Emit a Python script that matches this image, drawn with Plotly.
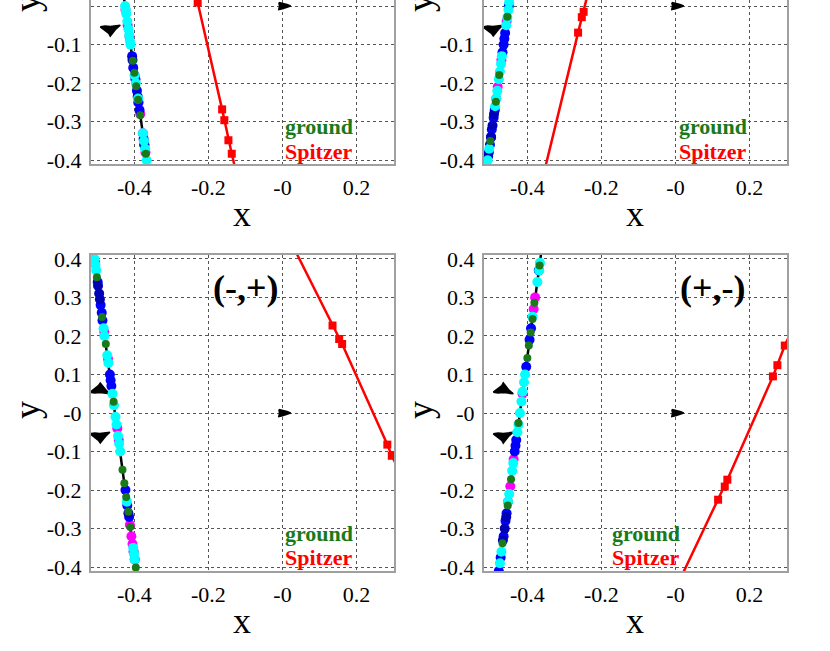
import plotly.graph_objects as go

W, H = 830, 651

# ── data ─────────────────────────────────────────────────────────────────────
X_TICKS = [-0.4, -0.2, 0.0, 0.2]
X_TICK_TEXT = ['-0.4', '-0.2', '-0', '0.2']
Y_TICKS = [-0.4, -0.3, -0.2, -0.1, 0.0, 0.1, 0.2, 0.3, 0.4]
Y_TICK_TEXT = ['-0.4', '-0.3', '-0.2', '-0.1', '-0', '0.1', '0.2', '0.3', '0.4']

# caustics (two planetary triangles + small central one)
CAUSTIC_A_X = [-0.520, -0.506, -0.497, -0.492, -0.487, -0.478, -0.466, -0.480, -0.493, -0.507, -0.520]
CAUSTIC_B_X = [-0.492, -0.478, -0.469, -0.465, -0.460, -0.451, -0.438, -0.452, -0.465, -0.479, -0.492]
CAUSTIC_UP_Y = [0.054, 0.063, 0.071, 0.078, 0.071, 0.061, 0.050, 0.051, 0.053, 0.052, 0.054]
CAUSTIC_DOWN_Y = [-0.054, -0.063, -0.071, -0.078, -0.071, -0.061, -0.050, -0.051, -0.053, -0.052, -0.054]
CENTRAL_X = [-0.010, 0.0, 0.012, 0.022, 0.012, 0.0, -0.010, -0.008, -0.010]
CENTRAL_Y = [0.009, 0.007, 0.004, 0.0, -0.004, -0.007, -0.009, 0.0, 0.009]

# top-left panel
TL_LINE_X = [-0.428, -0.364]
TL_LINE_Y = [0.02, -0.42]
TL_CYAN_X = [-0.425, -0.423, -0.422, -0.419, -0.416, -0.414, -0.412, -0.4105, -0.399, -0.396, -0.390, -0.377, -0.374, -0.371, -0.367]
TL_CYAN_Y = [0.0, -0.01, -0.02, -0.04, -0.06, -0.075, -0.09, -0.10, -0.18, -0.20, -0.24, -0.33, -0.35, -0.37, -0.40]
TL_MAG_X = [-0.424, -0.418, -0.413, -0.399, -0.389, -0.384, -0.377, -0.370]
TL_MAG_Y = [-0.01, -0.05, -0.08, -0.18, -0.25, -0.28, -0.33, -0.38]
TL_BLUE_X = [-0.406, -0.403, -0.397, -0.393, -0.389, -0.386, -0.375, -0.373]
TL_BLUE_Y = [-0.13, -0.16, -0.19, -0.22, -0.25, -0.27, -0.345, -0.36]
TL_DARK_X = [-0.405, -0.373, -0.391]
TL_DARK_Y = [-0.14, -0.36, -0.235]
TL_GREEN_X = [-0.404, -0.400, -0.395, -0.390, -0.384, -0.369]
TL_GREEN_Y = [-0.142, -0.173, -0.208, -0.243, -0.283, -0.383]
TL_SPZ_LINE_X = [-0.240, -0.229, -0.163, -0.157, -0.146, -0.137, -0.128]
TL_SPZ_LINE_Y = [0.05, 0.009, -0.268, -0.296, -0.348, -0.383, -0.42]
TL_SPZ_X = [-0.229, -0.163, -0.157, -0.146, -0.137]
TL_SPZ_Y = [0.009, -0.268, -0.296, -0.348, -0.383]

# top-right panel
TR_LINE_X = [-0.447, -0.510]
TR_LINE_Y = [0.02, -0.42]
TR_CYAN_X = [-0.449, -0.451, -0.454, -0.457, -0.469, -0.471, -0.474, -0.477, -0.481, -0.484, -0.487, -0.503, -0.507]
TR_CYAN_Y = [0.01, -0.01, -0.03, -0.05, -0.13, -0.15, -0.17, -0.19, -0.22, -0.24, -0.26, -0.37, -0.40]
TR_MAG_X = [-0.456, -0.470, -0.484, -0.480]
TR_MAG_Y = [-0.04, -0.14, -0.24, -0.21]
TR_BLUE_X = [-0.450, -0.460, -0.462, -0.464, -0.467, -0.488, -0.491, -0.496, -0.498, -0.501, -0.504]
TR_BLUE_Y = [0.0, -0.07, -0.085, -0.10, -0.12, -0.27, -0.29, -0.32, -0.34, -0.36, -0.38]
TR_DARK_X = [-0.494, -0.498, -0.506, -0.490]
TR_DARK_Y = [-0.31, -0.34, -0.39, -0.28]
TR_GREEN_X = [-0.454, -0.476, -0.485, -0.500]
TR_GREEN_Y = [-0.028, -0.179, -0.248, -0.350]
TR_SPZ_LINE_X = [-0.232, -0.248, -0.253, -0.263, -0.352]
TR_SPZ_LINE_Y = [0.05, -0.015, -0.029, -0.069, -0.42]
TR_SPZ_X = [-0.248, -0.253, -0.263]
TR_SPZ_Y = [-0.015, -0.029, -0.069]

# bottom-left panel (-,+)
BL_LINE_X = [-0.511, -0.394]
BL_LINE_Y = [0.42, -0.42]
BL_CYAN_X = [-0.508, -0.505, -0.503, -0.483, -0.481, -0.473, -0.470, -0.459, -0.455, -0.451, -0.448, -0.444, -0.441, -0.438, -0.420, -0.403, -0.401, -0.399]
BL_CYAN_Y = [0.40, 0.385, 0.37, 0.22, 0.20, 0.15, 0.13, 0.05, 0.02, -0.01, -0.03, -0.06, -0.08, -0.10, -0.23, -0.35, -0.365, -0.38]
BL_MAG_X = [-0.481, -0.471, -0.446, -0.442, -0.412, -0.408, -0.405]
BL_MAG_Y = [0.21, 0.14, -0.04, -0.07, -0.29, -0.32, -0.34]
BL_BLUE_X = [-0.506, -0.499, -0.491, -0.488, -0.466, -0.464, -0.462, -0.424, -0.419, -0.414, -0.402, -0.399, -0.486]
BL_BLUE_Y = [0.39, 0.34, 0.28, 0.26, 0.10, 0.085, 0.07, -0.20, -0.24, -0.27, -0.36, -0.38, 0.24]
BL_DARK_X = [-0.498, -0.495, -0.416, -0.493]
BL_DARK_Y = [0.33, 0.31, -0.26, 0.295]
BL_GREEN_X = [-0.501, -0.487, -0.477, -0.456, -0.432, -0.427, -0.422, -0.416, -0.411, -0.396]
BL_GREEN_Y = [0.352, 0.249, 0.179, 0.029, -0.147, -0.182, -0.218, -0.256, -0.296, -0.401]
BL_SPZ_LINE_X = [0.035, 0.135, 0.153, 0.161, 0.283, 0.295, 0.31]
BL_SPZ_LINE_Y = [0.42, 0.227, 0.192, 0.179, -0.082, -0.111, -0.14]
BL_SPZ_X = [0.135, 0.153, 0.161, 0.283, 0.295]
BL_SPZ_Y = [0.227, 0.192, 0.179, -0.082, -0.111]

# bottom-right panel (+,-)
BR_LINE_X = [-0.362, -0.478]
BR_LINE_Y = [0.42, -0.42]
BR_CYAN_X = [-0.366, -0.368, -0.373, -0.386, -0.406, -0.409, -0.413, -0.416, -0.420, -0.424, -0.427, -0.438, -0.441, -0.449, -0.452, -0.470, -0.474]
BR_CYAN_Y = [0.39, 0.37, 0.34, 0.25, 0.10, 0.08, 0.055, 0.03, 0.0, -0.03, -0.05, -0.13, -0.15, -0.21, -0.23, -0.36, -0.39]
BR_MAG_X = [-0.379, -0.383, -0.413, -0.437, -0.446, -0.452]
BR_MAG_Y = [0.30, 0.27, 0.05, -0.12, -0.19, -0.23]
BR_BLUE_X = [-0.369, -0.390, -0.394, -0.403, -0.430, -0.432, -0.434, -0.456, -0.459, -0.464, -0.477, -0.472]
BR_BLUE_Y = [0.37, 0.22, 0.19, 0.12, -0.07, -0.085, -0.10, -0.26, -0.28, -0.32, -0.41, -0.375]
BR_DARK_X = [-0.461, -0.466, -0.457]
BR_DARK_Y = [-0.30, -0.33, -0.27]
BR_GREEN_X = [-0.367, -0.381, -0.386, -0.391, -0.396, -0.400, -0.424, -0.444, -0.453, -0.467]
BR_GREEN_Y = [0.383, 0.286, 0.244, 0.209, 0.175, 0.143, -0.026, -0.172, -0.24, -0.338]
BR_SPZ_LINE_X = [0.018, 0.115, 0.133, 0.140, 0.263, 0.275, 0.295, 0.312]
BR_SPZ_LINE_Y = [-0.42, -0.225, -0.191, -0.173, 0.095, 0.124, 0.175, 0.21]
BR_SPZ_X = [0.115, 0.133, 0.140, 0.263, 0.275, 0.295]
BR_SPZ_Y = [-0.225, -0.191, -0.173, 0.095, 0.124, 0.175]

PANEL_LABELS = ['(-,+)', '(+,-)']

# ── styling ──────────────────────────────────────────────────────────────────
SERIF = 'Liberation Serif'
C_CYAN, C_MAG, C_BLUE, C_DARK = '#00ffff', '#ff00ff', '#0000ff', '#0000b4'
C_GREEN, C_RED = '#1a7a1a', '#ff0000'


def px(x):
    return x / W


def py(y):
    return 1 - y / H


fig = go.Figure()

panels = [
    # (axis suffix, caustic x, line, colour groups, spitzer line, spitzer pts)
    ('', CAUSTIC_B_X, (TL_LINE_X, TL_LINE_Y),
     [(TL_MAG_X, TL_MAG_Y, C_MAG), (TL_BLUE_X, TL_BLUE_Y, C_BLUE), (TL_DARK_X, TL_DARK_Y, C_DARK),
      (TL_CYAN_X, TL_CYAN_Y, C_CYAN), (TL_GREEN_X, TL_GREEN_Y, C_GREEN)],
     (TL_SPZ_LINE_X, TL_SPZ_LINE_Y), (TL_SPZ_X, TL_SPZ_Y)),
    ('2', CAUSTIC_A_X, (TR_LINE_X, TR_LINE_Y),
     [(TR_MAG_X, TR_MAG_Y, C_MAG), (TR_BLUE_X, TR_BLUE_Y, C_BLUE), (TR_DARK_X, TR_DARK_Y, C_DARK),
      (TR_CYAN_X, TR_CYAN_Y, C_CYAN), (TR_GREEN_X, TR_GREEN_Y, C_GREEN)],
     (TR_SPZ_LINE_X, TR_SPZ_LINE_Y), (TR_SPZ_X, TR_SPZ_Y)),
    ('3', CAUSTIC_A_X, (BL_LINE_X, BL_LINE_Y),
     [(BL_MAG_X, BL_MAG_Y, C_MAG), (BL_BLUE_X, BL_BLUE_Y, C_BLUE), (BL_DARK_X, BL_DARK_Y, C_DARK),
      (BL_CYAN_X, BL_CYAN_Y, C_CYAN), (BL_GREEN_X, BL_GREEN_Y, C_GREEN)],
     (BL_SPZ_LINE_X, BL_SPZ_LINE_Y), (BL_SPZ_X, BL_SPZ_Y)),
    ('4', CAUSTIC_B_X, (BR_LINE_X, BR_LINE_Y),
     [(BR_MAG_X, BR_MAG_Y, C_MAG), (BR_BLUE_X, BR_BLUE_Y, C_BLUE), (BR_DARK_X, BR_DARK_Y, C_DARK),
      (BR_CYAN_X, BR_CYAN_Y, C_CYAN), (BR_GREEN_X, BR_GREEN_Y, C_GREEN)],
     (BR_SPZ_LINE_X, BR_SPZ_LINE_Y), (BR_SPZ_X, BR_SPZ_Y)),
]

for suf, cx, line, groups, spz_line, spz_pts in panels:
    ax = dict(xaxis='x' + suf, yaxis='y' + suf, showlegend=False, hoverinfo='skip')
    for cy in (CAUSTIC_UP_Y, CAUSTIC_DOWN_Y):
        fig.add_trace(go.Scatter(x=cx, y=cy, mode='lines', fill='toself',
                                 fillcolor='black', line=dict(color='black', width=1.5), **ax))
    fig.add_trace(go.Scatter(x=CENTRAL_X, y=CENTRAL_Y, mode='lines', fill='toself',
                             fillcolor='black', line=dict(color='black', width=1.5), **ax))
    fig.add_trace(go.Scatter(x=line[0], y=line[1], mode='lines',
                             line=dict(color='black', width=2.5), **ax))
    for gx, gy, col in groups:
        size = 8 if col == C_GREEN else 10
        fig.add_trace(go.Scatter(x=gx, y=gy, mode='markers',
                                 marker=dict(color=col, size=size, line=dict(width=0)), **ax))
    fig.add_trace(go.Scatter(x=spz_line[0], y=spz_line[1], mode='lines',
                             line=dict(color=C_RED, width=2.5), **ax))
    fig.add_trace(go.Scatter(x=spz_pts[0], y=spz_pts[1], mode='markers',
                             marker=dict(color=C_RED, size=8, symbol='square', line=dict(width=0)), **ax))

# panel geometry in pixels
LEFTS = [91, 484]
PW = 303
BOT_TOP, BOT_BOTTOM = 255, 571
TOP_BOTTOM = 164

axis_common = dict(
    showgrid=True, gridcolor='#555', griddash='dot', gridwidth=1,
    showline=True, linecolor='#a0a0a0', linewidth=2,
    zeroline=False, ticks='outside', ticklen=3, tickcolor='rgba(0,0,0,0)',
    tickfont=dict(family=SERIF, size=22, color='black'),
    automargin=False,
)

layout = dict(width=W, height=H, margin=dict(l=0, r=0, t=0, b=0, autoexpand=False),
              plot_bgcolor='white', paper_bgcolor='white', showlegend=False,
              font=dict(family=SERIF, color='black'))

names = ['', '2', '3', '4']
for i, suf in enumerate(names):
    col = i % 2
    top_row = i < 2
    xd = [px(LEFTS[col]), px(LEFTS[col] + PW)]
    if top_row:
        yd = [py(TOP_BOTTOM), 1.0]
        yr = [-0.4096, 0.0156]
    else:
        yd = [py(BOT_BOTTOM), py(BOT_TOP)]
        yr = [-0.41, 0.41]
    layout['xaxis' + suf] = dict(axis_common, domain=xd, range=[-0.517, 0.301],
                                 anchor='y' + suf, tickvals=X_TICKS, ticktext=X_TICK_TEXT,
                                 mirror=not top_row)
    layout['yaxis' + suf] = dict(axis_common, domain=yd, range=yr,
                                 anchor='x' + suf, tickvals=Y_TICKS, ticktext=Y_TICK_TEXT,
                                 mirror=True)

fig.update_layout(**layout)

ann = []
for col in range(2):
    left = LEFTS[col]
    xc = left + PW / 2 - 1
    for bottom in (TOP_BOTTOM, BOT_BOTTOM):
        ann.append(dict(text='x', x=px(xc), y=py(bottom + 50), xref='paper', yref='paper',
                        showarrow=False, font=dict(family=SERIF, size=36, color='black'),
                        xanchor='center', yanchor='middle'))
    for yc in (3, 410):
        ann.append(dict(text='y', x=px(left - 64), y=py(yc), xref='paper', yref='paper',
                        showarrow=False, textangle=-90,
                        font=dict(family=SERIF, size=36, color='black'),
                        xanchor='center', yanchor='middle'))

# legend-like labels
LABEL_POS = [(283, 127), (677, 127), (283, 533), (610, 533)]
for lx, ly in LABEL_POS:
    ann.append(dict(text='<b>ground</b>', x=px(lx), y=py(ly), xref='paper', yref='paper',
                    showarrow=False, font=dict(family=SERIF, size=22, color=C_GREEN),
                    xanchor='left', yanchor='middle'))
    ann.append(dict(text='<b>Spitzer</b>', x=px(lx), y=py(ly + 24), xref='paper', yref='paper',
                    showarrow=False, font=dict(family=SERIF, size=22, color=C_RED),
                    xanchor='left', yanchor='middle'))

for (lx, ly), txt in zip([(245, 288), (712, 288)], PANEL_LABELS):
    ann.append(dict(text='<b>' + txt + '</b>', x=px(lx), y=py(ly), xref='paper', yref='paper',
                    showarrow=False, font=dict(family=SERIF, size=36, color='black'),
                    xanchor='center', yanchor='middle'))

fig.update_layout(annotations=ann)

# the page body has a default 8px margin; drop it so the figure sits at (0, 0)
fig.write_html("out.html", config={'displayModeBar': False},
               post_script="document.body.style.margin='0';")
